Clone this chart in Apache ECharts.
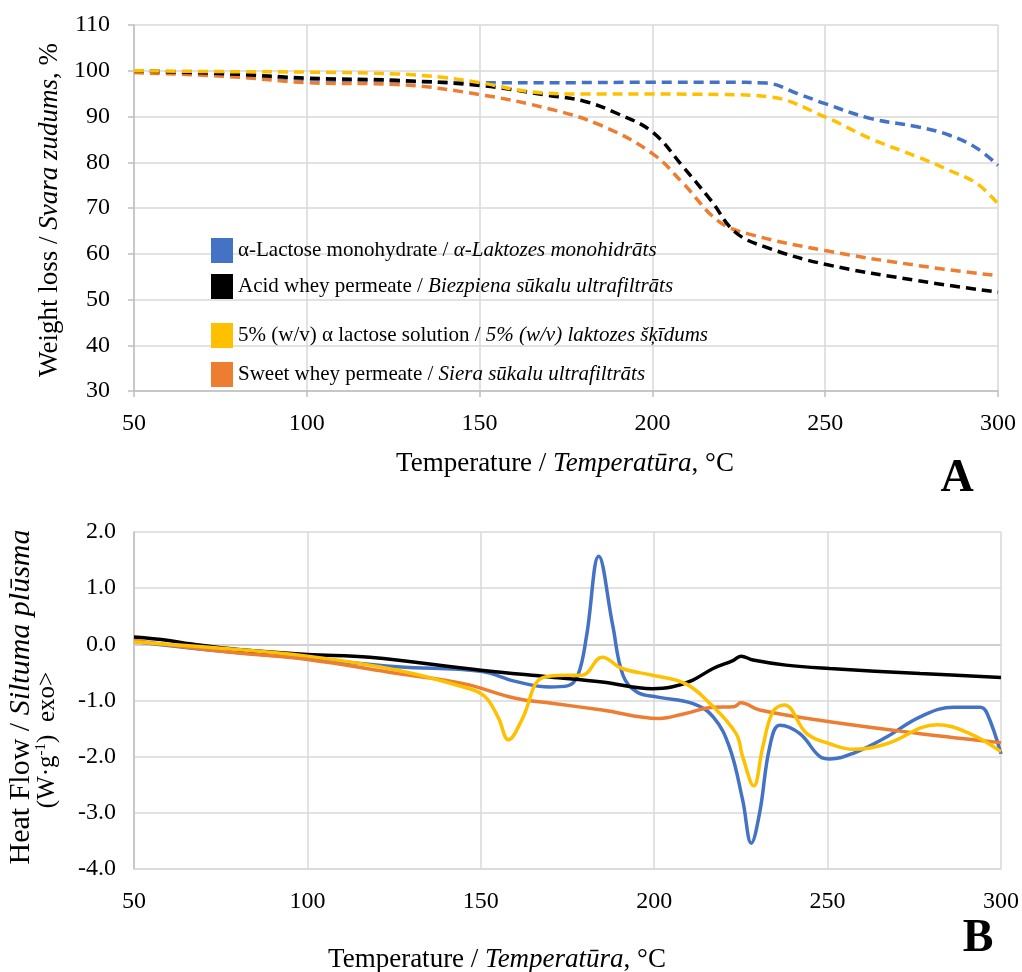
<!DOCTYPE html>
<html>
<head>
<meta charset="utf-8">
<script src="https://cdn.jsdelivr.net/npm/echarts@6/dist/echarts.min.js"></script>
<style>
  html, body { margin: 0; padding: 0; background: #fff; }
  #chart { width: 1022px; height: 972px; }
</style>
</head>
<body>
<div id="chart"></div>
<script>
// names of the four samples (legend order)
const names = [
  'α-Lactose monohydrate / α-Laktozes monohidrāts',
  'Acid whey permeate / Biezpiena sūkalu ultrafiltrāts',
  '5% (w/v) α lactose solution / 5% (w/v) laktozes šķīdums',
  'Sweet whey permeate / Siera sūkalu ultrafiltrāts'
];
const colors = ['#4472C4', '#000000', '#FFC000', '#ED7D31'];

// A: weight loss, %  [temperature, value]
const tgaLactose = [[50,100],[75,99.3],[100,98.1],[126,97.7],[150,97.4],[175,97.4],[200,97.5],[220,97.5],[233,97.3],[242,95.0],[250,92.8],[263,89.6],[277,87.7],[286,85.9],[294,83.0],[300,79.3]];
const tgaAcid = [[50,100],[78,99.3],[100,98.4],[126,97.9],[150,96.8],[170,94.6],[180,93.4],[190,90.6],[200,86.6],[209,78.9],[217,71.6],[224,64.7],[233,61.4],[250,57.7],[277,54.1],[300,51.6]];
const tgaSolution = [[50,100],[78,99.8],[100,99.7],[126,99.3],[140,98.5],[150,97.4],[165,95.4],[180,94.9],[200,94.9],[220,94.8],[234,94.3],[250,89.9],[263,85.2],[277,81.1],[286,78.2],[294,75.3],[300,70.9]];
const tgaSweet = [[50,99.6],[78,98.7],[100,97.4],[126,97.0],[150,94.8],[170,91.7],[185,88.1],[200,81.9],[209,75.3],[219,67.2],[228,64.3],[250,60.7],[277,57.4],[300,55.2]];

// B: heat flow, W/g  [temperature, value]
const dscLactose = [[50,0.05],[75,-0.12],[100,-0.25],[126,-0.40],[150,-0.48],[160,-0.66],[170,-0.76],[175,-0.74],[178,-0.55],[180.5,0.15],[184,1.57],[188,0.35],[191,-0.55],[195,-0.85],[201,-0.94],[211,-1.05],[217,-1.29],[221.7,-1.83],[225.5,-2.77],[228,-3.54],[230.4,-3.0],[233.3,-1.83],[236.2,-1.44],[242,-1.59],[247.8,-2.0],[250.6,-2.04],[257.4,-1.94],[267,-1.65],[276.7,-1.29],[286.4,-1.12],[294,-1.12],[296,-1.23],[300,-1.95]];
const dscAcid = [[50,0.13],[60,0.07],[66,0.01],[80,-0.09],[100,-0.18],[118,-0.23],[150,-0.46],[170,-0.58],[185,-0.67],[199.5,-0.79],[205,-0.76],[211,-0.64],[217,-0.43],[222.7,-0.29],[225,-0.21],[228.5,-0.28],[238,-0.37],[250.6,-0.43],[276.7,-0.52],[300,-0.59]];
const dscSolution = [[50,0.04],[75,-0.07],[100,-0.21],[126,-0.46],[145,-0.76],[151,-0.92],[155,-1.30],[158,-1.70],[161.8,-1.35],[167.6,-0.60],[174.4,-0.55],[179.2,-0.55],[185,-0.23],[190.8,-0.43],[199.5,-0.55],[209,-0.70],[216,-1.05],[223.6,-1.59],[225.5,-2.0],[228.7,-2.52],[231.3,-1.83],[234.2,-1.20],[237.5,-1.08],[244,-1.59],[250.6,-1.77],[257.4,-1.87],[267,-1.77],[281.6,-1.43],[291,-1.59],[300,-1.91]];
const dscSweet = [[50,0.07],[78,-0.14],[100,-0.27],[126,-0.52],[145,-0.70],[160,-0.96],[170.5,-1.05],[185,-1.17],[201.4,-1.32],[209,-1.23],[217,-1.12],[223,-1.11],[225,-1.04],[230.4,-1.17],[250.6,-1.38],[276.7,-1.59],[300,-1.75]];

const font = "'Liberation Serif', 'Times New Roman', serif";
const grid = '#d9d9d9';

const myChart = echarts.init(document.getElementById('chart'));

function legendAt(i, top) {
  const parts = names[i].split(' / ');
  return {
    data: [names[i]],
    left: 206, top: top,
    itemWidth: 22, itemHeight: 25,
    icon: 'rect',
    selectedMode: false,
    formatter: () => '{n|' + parts[0] + ' / }{i|' + parts[1] + '}',
    textStyle: {
      rich: {
        n: { fontFamily: font, fontSize: 21, color: '#000' },
        i: { fontFamily: font, fontSize: 21, fontStyle: 'italic', color: '#000' }
      }
    }
  };
}

function line(name, data, color, xi, dashed) {
  return {
    name: name, type: 'line', data: data,
    xAxisIndex: xi, yAxisIndex: xi,
    smooth: 0.4, showSymbol: false, symbol: 'none',
    itemStyle: { color: color },
    lineStyle: { color: color, width: 3.5, type: dashed ? [10, 6] : 'solid' }
  };
}

function richText(size) {
  return {
    n: { fontFamily: font, fontSize: size, color: '#000' },
    i: { fontFamily: font, fontSize: size, fontStyle: 'italic', color: '#000' },
    s: { fontFamily: font, fontSize: 15, color: '#000', verticalAlign: 'top', padding: [0, 0, 12, 0] }
  };
}

function label(text, x, y, size, rot) {
  return {
    type: 'text', x: x, y: y, rotation: rot || 0,
    style: { text: text, rich: richText(size), align: 'center', verticalAlign: 'middle' }
  };
}

const xAxisBase = {
  type: 'value', min: 50, max: 300, interval: 50,
  axisLabel: { fontFamily: font, fontSize: 24, color: '#000', margin: 21 },
  splitLine: { lineStyle: { color: grid, width: 1.5 } }
};

option = {
  animation: false,
  grid: [
    { left: 134, top: 25, width: 864, height: 366 },
    { left: 134, top: 532, width: 868, height: 337 }
  ],
  xAxis: [
    Object.assign({}, xAxisBase, {
      gridIndex: 0,
      axisLine: { show: true, lineStyle: { color: '#bfbfbf', width: 1.5 } },
      axisTick: { show: true, length: 6, lineStyle: { color: '#bfbfbf', width: 1.5 } }
    }),
    Object.assign({}, xAxisBase, {
      gridIndex: 1,
      axisLine: { show: true, onZero: false, lineStyle: { color: grid, width: 1.5 } },
      axisTick: { show: false }
    })
  ],
  yAxis: [
    {
      type: 'value', gridIndex: 0, min: 30, max: 110, interval: 10,
      axisLine: { show: true, lineStyle: { color: '#bfbfbf', width: 1.5 } },
      axisTick: { show: true, length: 6, lineStyle: { color: '#bfbfbf', width: 1.5 } },
      axisLabel: { fontFamily: font, fontSize: 24, color: '#000', margin: 24 },
      splitLine: { lineStyle: { color: grid, width: 1.5 } }
    },
    {
      type: 'value', gridIndex: 1, min: -4, max: 2, interval: 1,
      axisLine: { show: true, lineStyle: { color: '#bfbfbf', width: 1.5 } },
      axisTick: { show: false },
      axisLabel: { fontFamily: font, fontSize: 24, color: '#000', margin: 18, formatter: v => v.toFixed(1) },
      splitLine: { lineStyle: { color: [grid, grid, grid, grid, '#bfbfbf', grid, grid], width: 1.5 } }
    }
  ],
  legend: [legendAt(0, 233), legendAt(1, 269), legendAt(2, 318), legendAt(3, 357)],
  series: [
    line(names[0], tgaLactose, colors[0], 0, true),
    line(names[3], tgaSweet, colors[3], 0, true),
    line(names[1], tgaAcid, colors[1], 0, true),
    line(names[2], tgaSolution, colors[2], 0, true),
    line(names[0], dscLactose, colors[0], 1, false),
    line(names[3], dscSweet, colors[3], 1, false),
    line(names[1], dscAcid, colors[1], 1, false),
    line(names[2], dscSolution, colors[2], 1, false)
  ],
  graphic: [
    label('{n|Weight loss / }{i|Svara zudums}{n|, %}', 50, 210, 27, Math.PI / 2),
    label('{n|Temperature / }{i|Temperatūra}{n|, °C}', 565, 464, 27),
    label('{n|Heat Flow / }{i|Siltuma plūsma}', 21, 697, 30, Math.PI / 2),
    label('{n|(W·g}{s|-1}{n|)  exo>}', 47, 740, 25, Math.PI / 2),
    label('{n|Temperature / }{i|Temperatūra}{n|, °C}', 497, 960, 27),
    {
      type: 'text', x: 957, y: 479,
      style: { text: 'A', fontFamily: font, fontSize: 46, fontWeight: 'bold', fill: '#000', align: 'center', verticalAlign: 'middle' }
    },
    {
      type: 'text', x: 978, y: 939,
      style: { text: 'B', fontFamily: font, fontSize: 46, fontWeight: 'bold', fill: '#000', align: 'center', verticalAlign: 'middle' }
    }
  ]
};

myChart.setOption(option);
</script>
</body>
</html>
